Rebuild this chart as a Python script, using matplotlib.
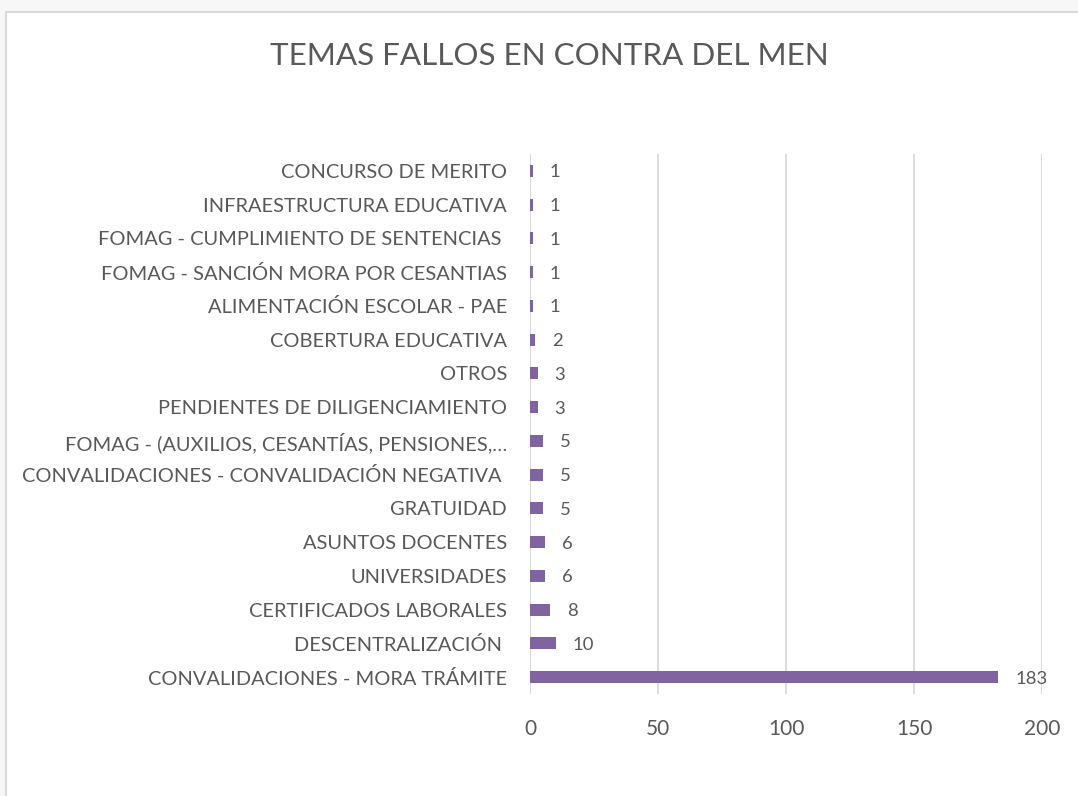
import matplotlib
matplotlib.use("Agg")
import matplotlib.pyplot as plt
from matplotlib.patches import Rectangle

categories = [
    "CONVALIDACIONES - MORA TRÁMITE",
    "DESCENTRALIZACIÓN ",
    "CERTIFICADOS LABORALES",
    "UNIVERSIDADES",
    "ASUNTOS DOCENTES",
    "GRATUIDAD",
    "CONVALIDACIONES - CONVALIDACIÓN NEGATIVA ",
    "FOMAG - (AUXILIOS, CESANTÍAS, PENSIONES,…",
    "PENDIENTES DE DILIGENCIAMIENTO",
    "OTROS",
    "COBERTURA EDUCATIVA",
    "ALIMENTACIÓN ESCOLAR - PAE",
    "FOMAG - SANCIÓN MORA POR CESANTIAS",
    "FOMAG - CUMPLIMIENTO DE SENTENCIAS ",
    "INFRAESTRUCTURA EDUCATIVA",
    "CONCURSO DE MERITO",
]
values = [183, 10, 8, 6, 6, 5, 5, 5, 3, 3, 2, 1, 1, 1, 1, 1]
xticks = [0, 50, 100, 150, 200]
title = "TEMAS FALLOS EN CONTRA DEL MEN"

plt.rcParams['font.family'] = ['Lato', 'DejaVu Sans']
TXT = "#595959"
BAR = "#8064A2"

fig = plt.figure(figsize=(10.78, 7.96), dpi=100)
fig.patch.set_facecolor("#f7f7f7")
W, H = 1078, 796
fig.patches.append(Rectangle((6 / W, -0.1), 1.2, 1.1 - 12 / H, transform=fig.transFigure,
                             facecolor="white", edgecolor="#d9d9d9", linewidth=1.5, zorder=-10))

ax = fig.add_axes([530 / W, 1 - 694 / H, (1042 - 530) / W, (694 - 154) / H])
ax.set_zorder(5)
ax.set_facecolor("none")
pos = list(range(len(categories)))
ax.barh(pos, values, height=0.36, color=BAR, zorder=3)
ax.set_xlim(0, 200)
ax.set_ylim(-0.5, len(categories) - 0.5)
ax.set_xticks(xticks)
ax.set_xticklabels([str(t) for t in xticks], fontsize=15, color=TXT)
ax.set_yticks(pos)
ax.set_yticklabels(categories, fontsize=14.4, color=TXT)
ax.tick_params(axis='both', length=0)
ax.tick_params(axis='y', pad=16.5)
ax.tick_params(axis='x', pad=18)
ax.grid(axis='x', color="#d9d9d9", linewidth=1.3, zorder=0)
for s in ax.spines.values():
    s.set_visible(False)
ax.axvline(0, color="#d9d9d9", linewidth=1.3, zorder=1)

for p, v in zip(pos, values):
    ax.annotate(str(v), (v, p), xytext=(12, -1), textcoords="offset points",
                ha="left", va="center", fontsize=13.3, color=TXT)

title_txt = fig.text(549 / W, 1 - 56 / H, title, ha="center", va="center", fontsize=22.6, color=TXT)
title_txt.set_zorder(6)

fig.savefig("out.png", dpi=100, facecolor=fig.get_facecolor())
